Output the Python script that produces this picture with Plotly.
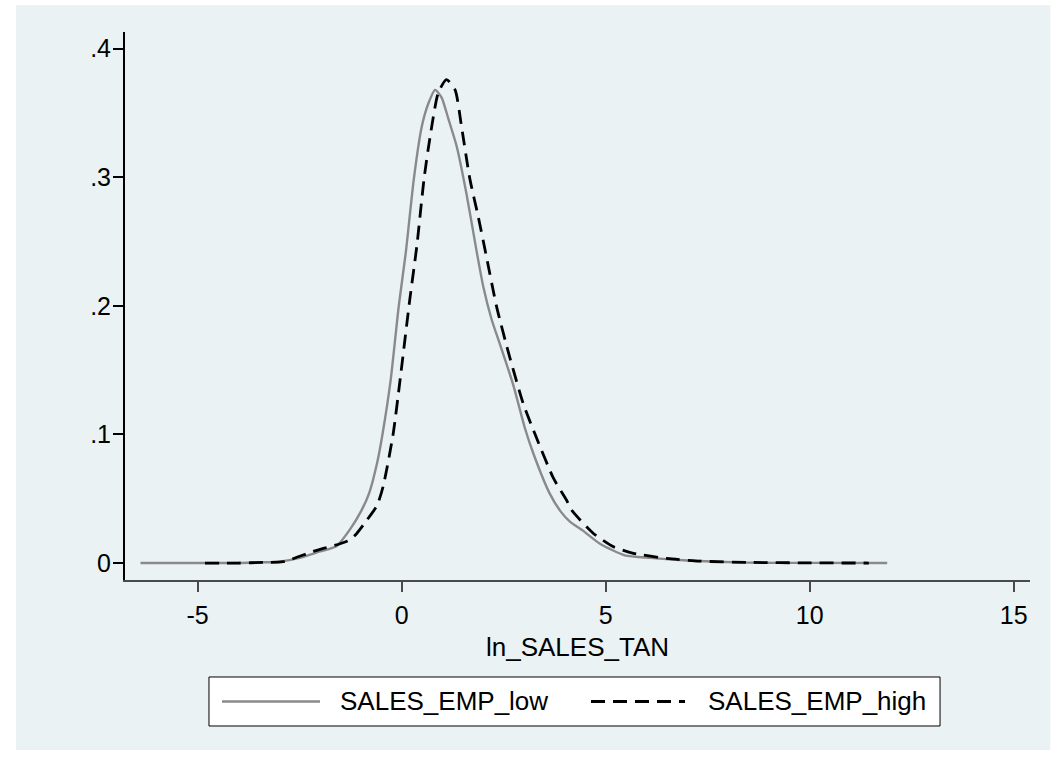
import plotly.graph_objects as go

# Kernel density estimates
low_x = [-6.4, -5.0, -4.0, -3.5, -3.0, -2.5, -2.0, -1.6, -1.27, -1.0, -0.8, -0.6, -0.47,
         -0.27, -0.07, 0.10, 0.30, 0.49, 0.65, 0.82, 0.98, 1.15, 1.35, 1.59,
         1.84, 2.0, 2.2, 2.41, 2.74, 3.02, 3.23, 3.63, 3.9, 4.13, 4.45, 4.86, 5.47, 6.09,
         7.0, 8.5, 10.0, 11.9]
low_y = [0.0, 0.0, 0.0, 0.0005, 0.001, 0.004, 0.009, 0.013, 0.026, 0.040, 0.054, 0.078, 0.100,
         0.142, 0.200, 0.241, 0.299, 0.339, 0.357, 0.368, 0.362, 0.345, 0.324, 0.287,
         0.242, 0.215, 0.190, 0.170, 0.138, 0.105, 0.085, 0.054, 0.040, 0.032, 0.025, 0.015,
         0.006, 0.004, 0.002, 0.0003, 0.0001, 0.0]

high_x = [-4.82, -4.0, -3.4, -2.9, -2.17, -1.51, -1.27, -1.10, -0.86, -0.6, -0.45,
          -0.21, -0.04, 0.20, 0.37, 0.55, 0.69, 0.90, 1.10, 1.31, 1.47, 1.67,
          1.88, 2.08, 2.33, 2.65, 2.98, 3.31, 3.72, 4.04, 4.17, 4.70, 5.19, 5.68,
          6.50, 7.3, 8.5, 10.0, 11.45]
high_y = [0.0, 0.0, 0.0005, 0.001, 0.009, 0.015, 0.018, 0.023, 0.033, 0.045, 0.060,
          0.100, 0.142, 0.205, 0.246, 0.299, 0.330, 0.366, 0.376, 0.368, 0.339, 0.299,
          0.269, 0.238, 0.199, 0.160, 0.124, 0.097, 0.066, 0.049, 0.041, 0.023, 0.0127, 0.0075,
          0.0036, 0.0015, 0.0005, 0.0001, 0.0]

series_names = ["SALES_EMP_low", "SALES_EMP_high"]
x_title = "ln_SALES_TAN"
y_tickvals = [0, 0.1, 0.2, 0.3, 0.4]
y_ticktext = ["0", ".1", ".2", ".3", ".4"]
x_tickvals = [-5, 0, 5, 10, 15]
x_ticktext = ["-5", "0", "5", "10", "15"]

FONT = "Liberation Sans, Arial, sans-serif"
BG = "#EAF2F3"
LOW_STYLE = dict(color="#8a8a8a", width=2.4)
HIGH_STYLE = dict(color="#000000", width=2.8, dash="14px,8px")

fig = go.Figure()
fig.add_trace(go.Scatter(x=low_x, y=low_y, mode="lines", name=series_names[0],
                         showlegend=False,
                         line=dict(**LOW_STYLE, shape="spline", smoothing=0.6)))
fig.add_trace(go.Scatter(x=high_x, y=high_y, mode="lines", name=series_names[1],
                         showlegend=False,
                         line=dict(**HIGH_STYLE, shape="spline", smoothing=0.6)))

# light outer graph region
fig.add_shape(type="rect", xref="paper", yref="paper", x0=-0.1205, x1=1.0225,
              y0=-0.310, y1=1.049, fillcolor=BG, line=dict(width=0), layer="below")

# legend box (Stata-style, long line samples)
fig.add_shape(type="rect", xref="paper", yref="paper", x0=0.0928, x1=0.9006,
              y0=-0.2664, y1=-0.1770, fillcolor="white", line=dict(color="black", width=1))
leg_y = -0.2217
fig.add_shape(type="line", xref="paper", yref="paper", x0=0.1072, x1=0.2155,
              y0=leg_y, y1=leg_y, line=LOW_STYLE)
fig.add_shape(type="line", xref="paper", yref="paper", x0=0.5149, x1=0.6188,
              y0=leg_y, y1=leg_y, line=HIGH_STYLE)
fig.add_annotation(xref="paper", yref="paper", x=0.2354, y=leg_y, xanchor="left",
                   yanchor="middle", text=series_names[0], showarrow=False,
                   font=dict(family=FONT, size=26, color="black"))
fig.add_annotation(xref="paper", yref="paper", x=0.6420, y=leg_y, xanchor="left",
                   yanchor="middle", text=series_names[1], showarrow=False,
                   font=dict(family=FONT, size=26, color="black"))

fig.update_layout(
    width=1063, height=758,
    margin=dict(l=125, r=33, t=32, b=178),
    paper_bgcolor="white", plot_bgcolor="white",
    font=dict(family=FONT, size=25, color="black"),
    showlegend=False,
    xaxis=dict(range=[-6.78, 15.4], tickvals=x_tickvals, ticktext=x_ticktext,
               showgrid=False, zeroline=False,
               showline=True, linecolor="#4a4a4a", linewidth=2, ticks="outside",
               ticklen=10, tickwidth=2, tickcolor="#4a4a4a",
               ticklabelstandoff=2, tickfont=dict(family=FONT, size=25),
               title=dict(text=x_title, standoff=10, font=dict(family=FONT, size=26))),
    yaxis=dict(range=[-0.0132, 0.413], tickvals=y_tickvals, ticktext=y_ticktext,
               showgrid=True, gridcolor=BG, gridwidth=2, zeroline=False,
               showline=True, linecolor="black", linewidth=2, ticks="outside",
               ticklen=10, tickwidth=2, tickcolor="black", ticklabelstandoff=-3,
               tickfont=dict(family=FONT, size=25)),
)

fig.write_html("out.html")
